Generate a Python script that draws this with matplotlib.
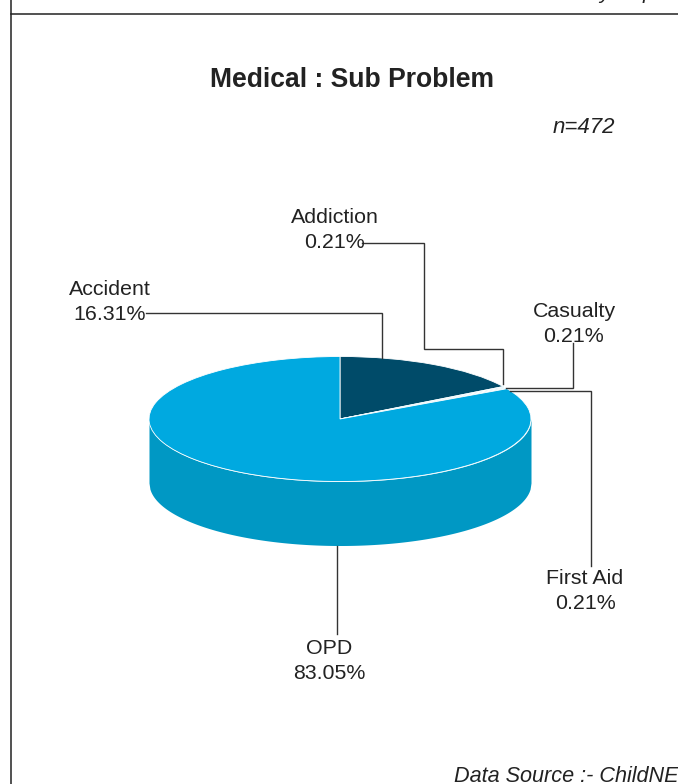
import numpy as np
import matplotlib
matplotlib.use('Agg')
import matplotlib.pyplot as plt

plt.rcParams['font.family'] = ['Liberation Sans', 'DejaVu Sans']

# slices go clockwise from 12 o'clock
categories = ['Accident', 'Addiction', 'Casualty', 'First Aid', 'OPD']
values = [16.31, 0.21, 0.21, 0.21, 83.05]
n_total = 472

top_colors = ['#004b69', '#00a9e0', '#00a9e0', '#00a9e0', '#00a9e0']
side_color = '#0098c4'

W, H = 678, 784
fig = plt.figure(figsize=(W / 100, H / 100), dpi=100)

# overlay in pixel coordinates for frame, text, leaders
bg = fig.add_axes([0, 0, 1, 1], zorder=3)
bg.set_xlim(0, W)
bg.set_ylim(H, 0)
bg.axis('off')
bg.patch.set_alpha(0)

# pie axes, unit circle stretched to the ellipse of the picture
cx, cy, rx, ry, depth = 340, 419, 191, 62.5, 64
ax = fig.add_axes([(cx - rx) / W, 1 - (cy + ry + depth) / H,
                   2 * rx / W, (2 * ry + depth) / H])
ax.pie(values, colors=top_colors, startangle=90, counterclock=False,
       center=(0, 0), radius=1,
       wedgeprops={'edgecolor': 'white', 'linewidth': 0.6})
d = depth / ry
ax.set_aspect('auto')
ax.set_xlim(-1, 1)
ax.set_ylim(-1 - d, 1)
t = np.linspace(-1, 1, 400)
ax.fill_between(t, -np.sqrt(1 - t ** 2), -np.sqrt(1 - t ** 2) - d,
                color=side_color, lw=0, zorder=0)

# page frame
bg.plot([11, 11], [0, H], color='#222222', lw=1.1)
bg.plot([11, W], [13.5, 13.5], color='#222222', lw=1.1)

# leaders
leaders = [
    ([146, 382, 382], [313, 313, 358]),
    ([362, 424, 424, 503, 503], [243, 243, 349, 349, 384]),
    ([573, 573, 506], [343, 388, 388]),
    ([510, 591, 591], [391, 391, 566]),
    ([337, 337], [546, 634]),
]
for xs, ys in leaders:
    bg.plot(xs, ys, color='#333333', lw=1.0, solid_joinstyle='miter')

label_pos = [(110, 302), (334.5, 230), (574, 324), (585, 591), (329, 661)]
for name, val, (x, y) in zip(categories, values, label_pos):
    bg.text(x, y, '%s\n%.2f%%' % (name, val), ha='center', va='center',
            fontsize=15.4, color='#222222', linespacing=1.39)

bg.text(352, 80, 'Medical : Sub Problem', ha='center', va='center',
        fontsize=19.1, fontweight='bold', color='#222222')
bg.text(584, 127, 'n=%d' % n_total, ha='center', va='center',
        fontsize=16, style='italic', color='#222222')
bg.text(454, 777, 'Data Source :- ChildNET', ha='left', va='center',
        fontsize=15.6, style='italic', color='#222222')

# bottoms of the line cut off by the top edge of the page
bg.text(599, -1, 'y', ha='left', va='baseline', fontsize=15, style='italic',
        color='#222222')
bg.text(643, -1, 'p', ha='left', va='baseline', fontsize=15, style='italic',
        color='#222222')

fig.savefig('out.png', dpi=100)
